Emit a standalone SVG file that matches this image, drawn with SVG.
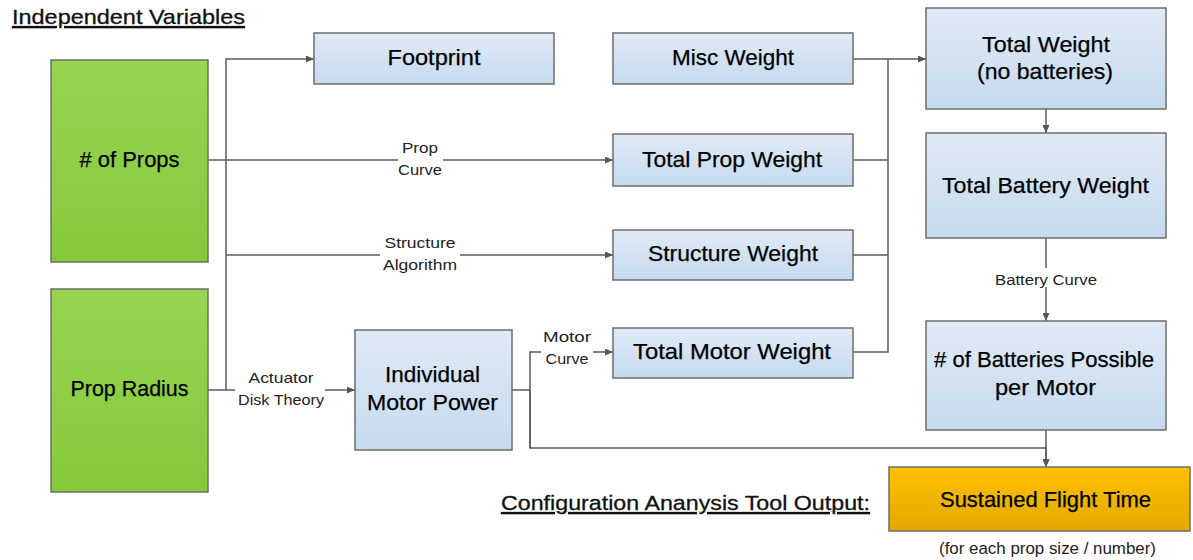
<svg xmlns="http://www.w3.org/2000/svg" width="1193" height="560" viewBox="0 0 1193 560">
<defs>
<linearGradient id="gBlue" x1="0" y1="0" x2="0" y2="1">
<stop offset="0" stop-color="#e0eaf6"/>
<stop offset="1" stop-color="#c6daee"/>
</linearGradient>
<linearGradient id="gGreen" x1="0" y1="0" x2="0" y2="1">
<stop offset="0" stop-color="#98d452"/>
<stop offset="1" stop-color="#84c93a"/>
</linearGradient>
<linearGradient id="gOrange" x1="0" y1="0" x2="0" y2="1">
<stop offset="0" stop-color="#ffc100"/>
<stop offset="1" stop-color="#e2a800"/>
</linearGradient>
<marker id="arr" markerWidth="8" markerHeight="7" refX="8" refY="3.5" orient="auto" markerUnits="userSpaceOnUse">
<path d="M0,0 L8,3.5 L0,7 z" fill="#555"/>
</marker>
</defs>
<style>
.box{fill:url(#gBlue);stroke:#6e6e6e;stroke-width:1.5}
.green{fill:url(#gGreen);stroke:#6e6e6e;stroke-width:1.5}
.orange{fill:url(#gOrange);stroke:#6e6e6e;stroke-width:1.5}
.t{font-family:"Liberation Sans",Arial,sans-serif;font-size:22px;fill:#000;text-anchor:middle;stroke:#000;stroke-width:0.25}
.lbl{font-family:"Liberation Sans",Arial,sans-serif;font-size:15px;fill:#222;text-anchor:middle}
.hdr{font-family:"Liberation Sans",Arial,sans-serif;font-size:21px;fill:#111;text-decoration:underline;stroke:#111;stroke-width:0.3}
.c{fill:none;stroke:#5a5a5a;stroke-width:1.5}
.ca{fill:none;stroke:#5a5a5a;stroke-width:1.5;marker-end:url(#arr)}
</style>
<rect width="1193" height="560" fill="#fff"/>

<text class="hdr" x="12" y="24" textLength="233" lengthAdjust="spacingAndGlyphs">Independent Variables</text>
<text class="hdr" x="501" y="510" textLength="369" lengthAdjust="spacingAndGlyphs">Configuration Ananysis Tool Output:</text>

<g id="connectors">
<path class="ca" d="M226,390 V59 H314"/>
<path class="c" d="M208,390 H235"/>
<path class="ca" d="M325,390 H355"/>
<path class="c" d="M208,160 H398"/>
<path class="ca" d="M443,160 H613"/>
<path class="c" d="M226,255 H380"/>
<path class="ca" d="M460,255 H613"/>
<path class="c" d="M512,390 H530"/>
<path class="c" d="M530,448 V352 H541"/>
<path class="ca" d="M593,352 H613"/>
<path class="ca" d="M530,390 V448 H1046 V467"/>
<path class="ca" d="M1046,430 V467"/>
<path class="ca" d="M1046,109 V133"/>
<path class="c" d="M1046,238 V268"/>
<path class="ca" d="M1046,287 V321"/>
<path class="ca" d="M853,59 H926"/>
<path class="c" d="M853,160 H888"/>
<path class="c" d="M853,255 H888"/>
<path class="c" d="M853,352 H888 V59"/>
<text class="lbl" x="420" y="153" textLength="36" lengthAdjust="spacingAndGlyphs">Prop</text>
<text class="lbl" x="420" y="175" textLength="44" lengthAdjust="spacingAndGlyphs">Curve</text>
<text class="lbl" x="420" y="248" textLength="71" lengthAdjust="spacingAndGlyphs">Structure</text>
<text class="lbl" x="420" y="270" textLength="74" lengthAdjust="spacingAndGlyphs">Algorithm</text>
<text class="lbl" x="281" y="383" textLength="65" lengthAdjust="spacingAndGlyphs">Actuator</text>
<text class="lbl" x="281" y="405" textLength="86" lengthAdjust="spacingAndGlyphs">Disk Theory</text>
<text class="lbl" x="567" y="342" textLength="48" lengthAdjust="spacingAndGlyphs">Motor</text>
<text class="lbl" x="567" y="364" textLength="43" lengthAdjust="spacingAndGlyphs">Curve</text>
<text class="lbl" x="1046" y="285" textLength="102" lengthAdjust="spacingAndGlyphs">Battery Curve</text>
</g>

<g id="num-props">
<rect class="green" x="51" y="60" width="157" height="202"/>
<text class="t" x="129.5" y="167" textLength="100" lengthAdjust="spacingAndGlyphs"># of Props</text>
</g>
<g id="prop-radius">
<rect class="green" x="51" y="289" width="157" height="203"/>
<text class="t" x="129.5" y="396" textLength="118" lengthAdjust="spacingAndGlyphs">Prop Radius</text>
</g>
<g id="footprint">
<rect class="box" x="314" y="33" width="240" height="51"/>
<text class="t" x="434" y="65" textLength="93" lengthAdjust="spacingAndGlyphs">Footprint</text>
</g>
<g id="misc-weight">
<rect class="box" x="613" y="33" width="240" height="51"/>
<text class="t" x="733" y="65" textLength="122" lengthAdjust="spacingAndGlyphs">Misc Weight</text>
</g>
<g id="total-prop-weight">
<rect class="box" x="613" y="134" width="240" height="52"/>
<text class="t" x="732" y="167" textLength="180" lengthAdjust="spacingAndGlyphs">Total Prop Weight</text>
</g>
<g id="structure-weight">
<rect class="box" x="613" y="230" width="240" height="50"/>
<text class="t" x="733" y="261" textLength="170" lengthAdjust="spacingAndGlyphs">Structure Weight</text>
</g>
<g id="total-motor-weight">
<rect class="box" x="613" y="328" width="240" height="50"/>
<text class="t" x="732" y="359" textLength="198" lengthAdjust="spacingAndGlyphs">Total Motor Weight</text>
</g>
<g id="individual-motor-power">
<rect class="box" x="355" y="330" width="157" height="120"/>
<text class="t" x="432.5" y="382" textLength="95" lengthAdjust="spacingAndGlyphs">Individual</text>
<text class="t" x="432.5" y="410" textLength="131" lengthAdjust="spacingAndGlyphs">Motor Power</text>
</g>
<g id="total-weight">
<rect class="box" x="926" y="8" width="240" height="101"/>
<text class="t" x="1046" y="52" textLength="128" lengthAdjust="spacingAndGlyphs">Total Weight</text>
<text class="t" x="1045" y="79" textLength="136" lengthAdjust="spacingAndGlyphs">(no batteries)</text>
</g>
<g id="total-battery-weight">
<rect class="box" x="926" y="133" width="240" height="105"/>
<text class="t" x="1045.5" y="193" textLength="207" lengthAdjust="spacingAndGlyphs">Total Battery Weight</text>
</g>
<g id="batteries-possible">
<rect class="box" x="926" y="321" width="240" height="109"/>
<text class="t" x="1044" y="367" textLength="220" lengthAdjust="spacingAndGlyphs"># of Batteries Possible</text>
<text class="t" x="1045.5" y="395" textLength="101" lengthAdjust="spacingAndGlyphs">per Motor</text>
</g>
<g id="sustained-flight-time">
<rect class="orange" x="889" y="467" width="301" height="64"/>
<text class="t" x="1045.5" y="507" textLength="211" lengthAdjust="spacingAndGlyphs">Sustained Flight Time</text>
<text class="lbl" x="1047.5" y="554" style="font-size:16px" textLength="217" lengthAdjust="spacingAndGlyphs">(for each prop size / number)</text>
</g>
</svg>
